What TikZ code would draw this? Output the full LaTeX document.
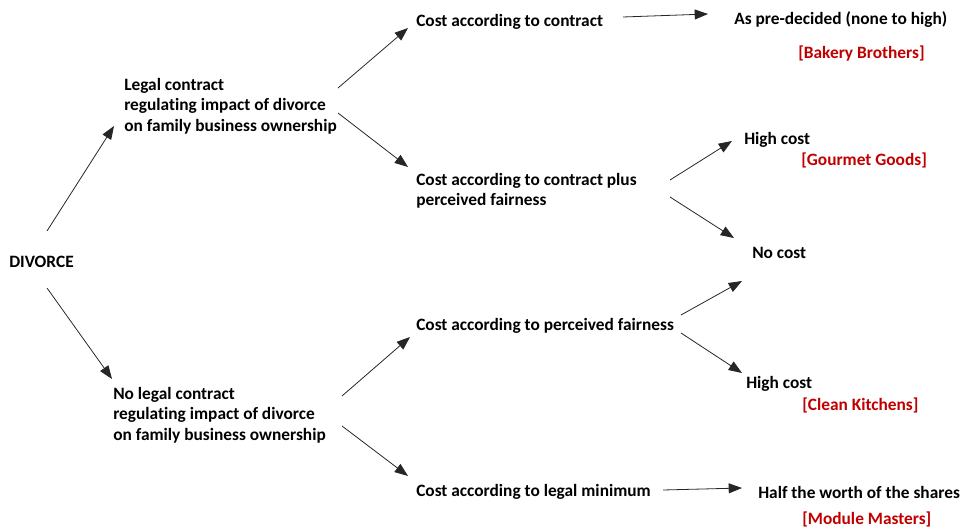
\documentclass[tikz,border=0pt]{standalone}
\usepackage{fontspec}
\setmainfont{Carlito}[Ligatures=NoCommon]
\usetikzlibrary{arrows.meta}

\definecolor{casered}{RGB}{192,0,0}

\tikzset{
  txt/.style={anchor=west, align=left, inner sep=0pt, yshift=-1.5pt, font=\bfseries\fontsize{13}{15.4}\selectfont},
  case/.style={txt, text=casered},
  arr/.style={-{Triangle[length=10pt,width=7.5pt]}, line width=0.6pt, black!85}
}

\begin{document}
\begin{tikzpicture}[x=0.75pt, y=-0.75pt]
        \useasboundingbox (0,0) rectangle (964,527);

        % first level
        \node[txt] (divorce) at (9,260) {DIVORCE};
        \node[txt] (legal) at (124,104) {Legal contract\\regulating impact of divorce\\on family business ownership};
        \node[txt] (nolegal) at (113,413) {No legal contract\\regulating impact of divorce\\on family business ownership};

        % second level
        \node[txt] (contract) at (416,20) {Cost according to contract};
        \node[txt] (plus) at (416,189) {Cost according to contract plus\\perceived fairness};
        \node[txt] (fair) at (416,324) {Cost according to perceived fairness};
        \node[txt] (minimum) at (416,490) {Cost according to legal minimum};

        % outcomes
        \node[txt] (predec) at (734,18) {As pre-decided (none to high)};
        \node[case] (bakery) at (798,52) {[Bakery Brothers]};
        \node[txt] (high1) at (744,138) {High cost};
        \node[case] (gourmet) at (801,158) {[Gourmet Goods]};
        \node[txt] (nocost) at (752,251) {No cost};
        \node[txt] (high2) at (746,382) {High cost};
        \node[case] (clean) at (802,403) {[Clean Kitchens]};
        \node[txt] (half) at (758,490) {Half the worth of the shares};
        \node[case] (module) at (802,517) {[Module Masters]};

        % arrow ends
        \coordinate (D1) at (47,231);   \coordinate (L0) at (114,126);
        \coordinate (D2) at (47,288);   \coordinate (N0) at (112,379);
        \coordinate (L1) at (338,88);   \coordinate (C0) at (408,28);
        \coordinate (L2) at (338,113);  \coordinate (P0) at (408,167);
        \coordinate (N1) at (342,396);  \coordinate (F0) at (410,337);
        \coordinate (N2) at (342,426);  \coordinate (M0) at (408,476);
        \coordinate (C1) at (623,17);   \coordinate (A0) at (708,14);
        \coordinate (P1) at (670,180);  \coordinate (H0) at (732,141);
        \coordinate (P2) at (670,197);  \coordinate (K0) at (734,238);
        \coordinate (F1) at (681,315);  \coordinate (K1) at (742,281);
        \coordinate (F2) at (681,333);  \coordinate (H1) at (742,373);
        \coordinate (M1) at (663,490);  \coordinate (S0) at (742,488);

        \draw[arr] (D1) -- (L0);
        \draw[arr] (D2) -- (N0);
        \draw[arr] (L1) -- (C0);
        \draw[arr] (L2) -- (P0);
        \draw[arr] (N1) -- (F0);
        \draw[arr] (N2) -- (M0);
        \draw[arr] (C1) -- (A0);
        \draw[arr] (P1) -- (H0);
        \draw[arr] (P2) -- (K0);
        \draw[arr] (F1) -- (K1);
        \draw[arr] (F2) -- (H1);
        \draw[arr] (M1) -- (S0);
    \end{tikzpicture}
\end{document}
